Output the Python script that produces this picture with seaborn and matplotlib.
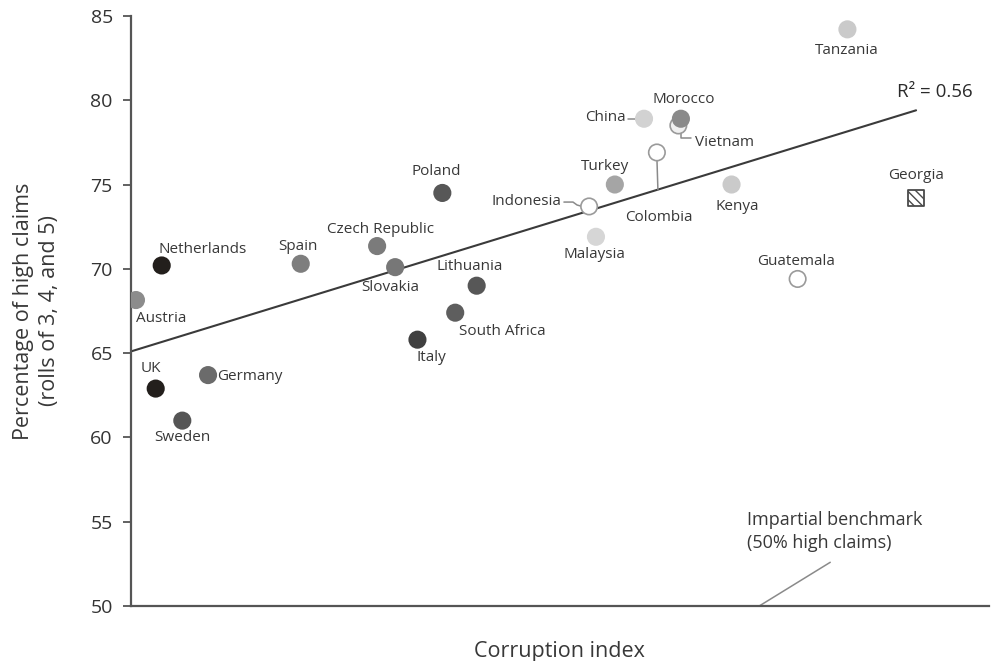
import matplotlib
matplotlib.use("Agg")
import matplotlib.pyplot as plt
import seaborn as sns
import pandas as pd

# Country scores: corruption index (x) and share of high claims in % (y)
countries = ["Austria", "Netherlands", "UK", "Sweden", "Germany", "Spain",
             "Czech Republic", "Slovakia", "Poland", "Italy", "South Africa",
             "Lithuania", "Indonesia", "Malaysia", "Turkey", "China", "Colombia",
             "Vietnam", "Morocco", "Kenya", "Guatemala", "Tanzania", "Georgia"]
corruption = [0.6, 3.6, 2.9, 6.0, 9.0, 19.8,
              28.7, 30.8, 36.3, 33.4, 37.8,
              40.3, 53.4, 54.2, 56.4, 59.8, 61.3,
              63.8, 64.1, 70.0, 77.7, 83.5, 91.5]
high_claims = [68.15, 70.2, 62.9, 61.0, 63.7, 70.3,
               71.35, 70.1, 74.5, 65.8, 67.4,
               69.0, 73.7, 71.9, 75.0, 78.9, 76.9,
               78.5, 78.9, 75.0, 69.4, 84.2, 74.2]
fill = ["#8c8c8c", "#231f1c", "#231f1c", "#555555", "#6b6b6b", "#7e7e7e",
        "#7b7b7b", "#777777", "#575757", "#404040", "#5e5e5e",
        "#575757", "#ffffff", "#d6d6d6", "#a5a5a5", "#d2d2d2", "#ffffff",
        "#f0f0f0", "#8a8a8a", "#cacaca", "#ffffff", "#cacaca", "#ffffff"]

# Fitted trend line endpoints and its R²
trend_x = [0.0, 91.5]
trend_y = [65.1, 79.4]
r_squared = 0.56

y_ticks = [50, 55, 60, 65, 70, 75, 80, 85]

# Label placement (offset in pixels from each point, alignment)
label_pos = {
    "Austria": (25, -18, "center"), "Netherlands": (41, 16, "center"),
    "UK": (-5, 20, "center"), "Sweden": (0, -17, "center"),
    "Germany": (9, -1, "left"), "Spain": (-3, 17, "center"),
    "Czech Republic": (3, 17, "center"), "Slovakia": (-5, -20, "center"),
    "Poland": (-6, 21, "center"), "Italy": (14, -18, "center"),
    "South Africa": (47, -19, "center"), "Lithuania": (-7, 19, "center"),
    "Indonesia": (-28, 5, "right"), "Malaysia": (-2, -18, "center"),
    "Turkey": (-10, 18, "center"), "China": (-18, 1, "right"),
    "Colombia": (2, -65, "center"), "Vietnam": (17, -17, "left"),
    "Morocco": (3, 19, "center"), "Kenya": (6, -22, "center"),
    "Guatemala": (-2, 17, "center"), "Tanzania": (-1, -21, "center"),
    "Georgia": (0, 23, "center"),
}

df = pd.DataFrame({"country": countries, "corruption": corruption,
                   "high_claims": high_claims, "fill": fill})

sns.set_theme(style="white")
plt.rcParams["font.family"] = ["Open Sans", "DejaVu Sans"]

fig = plt.figure(figsize=(9.91, 6.61), dpi=100)
ax = fig.add_axes([0.132, 0.083, 0.866, 0.893])

text_col = "#383838"

# Regression line
sns.lineplot(x=trend_x, y=trend_y, ax=ax, color="#3a3a3a", linewidth=1.5, zorder=2)
ax.annotate(f"R² = {r_squared:.2f}", (trend_x[1], trend_y[1]), xytext=(19, 18),
            textcoords="offset pixels", fontsize=13.5, color="#2a2a2a",
            ha="center", va="center")

circles = df[df["country"] != "Georgia"]
hollow = circles["fill"].isin(["#ffffff", "#f0f0f0"])
edges = ["#9a9a9a" if h else c for h, c in zip(hollow, circles["fill"])]
sns.scatterplot(data=circles, x="corruption", y="high_claims", ax=ax,
                c=list(circles["fill"]), edgecolor=edges, linewidth=1.2,
                s=140, zorder=3, legend=False)

geo = df[df["country"] == "Georgia"]
sns.scatterplot(data=geo, x="corruption", y="high_claims", ax=ax, marker="s",
                color="white", edgecolor="#4a4a4a", linewidth=1.3, hatch="\\\\\\\\",
                s=130, zorder=3, legend=False)

# Country labels
for name, x, y in zip(countries, corruption, high_claims):
    dx, dy, ha = label_pos[name]
    ax.annotate(name, (x, y), xytext=(dx, dy), textcoords="offset pixels",
                ha=ha, va="center", fontsize=11, color=text_col, zorder=4)

# Leader lines for crowded labels
lead = dict(color="#8a8a8a", linewidth=1.1, zorder=2)
pts = dict(zip(countries, zip(corruption, high_claims)))
to_data = ax.transData.inverted()

def pix(name, dx, dy):
    x0, y0 = ax.transData.transform(pts[name])
    return to_data.transform((x0 + dx, y0 + dy))

fig.canvas.draw()
for name, path in {
    "China": [(-16, 0), (-7, 0)],
    "Colombia": [(0, -7), (1, -51)],
    "Vietnam": [(3, -6), (3, -17), (13, -17)],
    "Indonesia": [(-25, 6), (-16, 6), (-12, 2), (-7, 0)],
}.items():
    xy = [pix(name, dx, dy) for dx, dy in path]
    ax.plot([p[0] for p in xy], [p[1] for p in xy], **lead)

# Benchmark note
ax.plot([73.2, 81.5], [50.0, 52.6], color="#8a8a8a", linewidth=1.1,
        clip_on=False, zorder=2)
ax.text(71.8, 54.45, "Impartial benchmark\n(50% high claims)", fontsize=13,
        color=text_col, ha="left", va="center", linespacing=1.35)

ax.set_xlim(0, 100)
ax.set_ylim(50, 85)
ax.set_yticks(y_ticks)
ax.set_xticks([])
ax.tick_params(axis="y", direction="out", length=6, width=1.3, color="#555555",
               labelsize=14, labelcolor="#333333", pad=7, left=True)
for side in ["top", "right"]:
    ax.spines[side].set_visible(False)
for side in ["left", "bottom"]:
    ax.spines[side].set_color("#555555")
    ax.spines[side].set_linewidth(1.6)

ax.set_xlabel("Corruption index", fontsize=15.5, color=text_col, labelpad=25)
ax.set_ylabel("Percentage of high claims\n(rolls of 3, 4, and 5)", fontsize=15.5,
              color=text_col, labelpad=22, linespacing=1.3)

fig.savefig("out.png", dpi=100)
